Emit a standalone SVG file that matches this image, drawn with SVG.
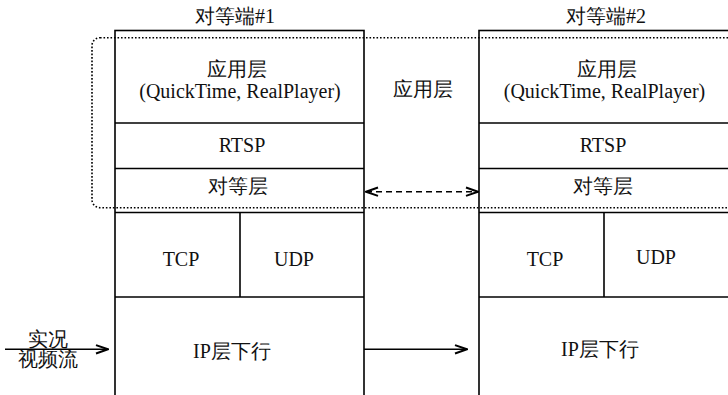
<svg xmlns="http://www.w3.org/2000/svg" width="728" height="395" viewBox="0 0 728 395">
  <style>
    .box { fill: none; stroke: #000; stroke-width: 1.6; }
    .conn { fill: none; stroke: #000; stroke-width: 1.6; }
    .dash { stroke-dasharray: 6 4; }
    .dots { fill: none; stroke: #000; stroke-width: 1.6; stroke-dasharray: 1.6 1.9; }
  </style>
  <defs>
    <marker id="open" viewBox="0 0 14 12" refX="13" refY="6" markerWidth="14" markerHeight="12" markerUnits="userSpaceOnUse" orient="auto-start-reverse">
      <path d="M1,1.8 L13,6 L1,10.2" fill="none" stroke="#000" stroke-width="2"/>
    </marker>
  </defs>
  <rect width="728" height="395" fill="#fff"/>

  <!-- peer 1 protocol stack -->
  <g id="peer1">
    <rect class="box" x="115" y="30.5" width="249" height="380"/>
    <line class="box" x1="115" y1="123" x2="364" y2="123"/>
    <line class="box" x1="115" y1="168.5" x2="364" y2="168.5"/>
    <line class="box" x1="115" y1="212.5" x2="364" y2="212.5"/>
    <line class="box" x1="115" y1="297" x2="364" y2="297"/>
    <line class="box" x1="240" y1="212.5" x2="240" y2="297"/>
    <text x="242" y="152" font-family="Liberation Serif" font-size="20" text-anchor="middle" fill="#111">RTSP</text>
    <text x="181" y="266" font-family="Liberation Serif" font-size="20" text-anchor="middle" fill="#111">TCP</text>
    <text x="294" y="266" font-family="Liberation Serif" font-size="20" text-anchor="middle" fill="#111">UDP</text>
    <text x="240" y="98" font-family="Liberation Serif" font-size="20" text-anchor="middle" fill="#111">(QuickTime, RealPlayer)</text>
    <text x="235" y="23" font-family="Liberation Serif" font-size="20" text-anchor="middle" fill="#111">对等端#1</text>
    <text x="237" y="76" font-family="Liberation Serif" font-size="20" text-anchor="middle" fill="#111">应用层</text>
    <text x="238" y="193" font-family="Liberation Serif" font-size="20" text-anchor="middle" fill="#111">对等层</text>
    <text x="232" y="358" font-family="Liberation Serif" font-size="20" text-anchor="middle" fill="#111">IP层下行</text>
  </g>

  <!-- peer 2 protocol stack -->
  <g id="peer2">
    <rect class="box" x="479" y="30.5" width="260" height="380"/>
    <line class="box" x1="479" y1="123" x2="739" y2="123"/>
    <line class="box" x1="479" y1="168.5" x2="739" y2="168.5"/>
    <line class="box" x1="479" y1="212.5" x2="739" y2="212.5"/>
    <line class="box" x1="479" y1="297" x2="739" y2="297"/>
    <line class="box" x1="604" y1="212.5" x2="604" y2="297"/>
    <text x="603" y="152" font-family="Liberation Serif" font-size="20" text-anchor="middle" fill="#111">RTSP</text>
    <text x="545" y="266" font-family="Liberation Serif" font-size="20" text-anchor="middle" fill="#111">TCP</text>
    <text x="656" y="264" font-family="Liberation Serif" font-size="20" text-anchor="middle" fill="#111">UDP</text>
    <text x="604.5" y="98" font-family="Liberation Serif" font-size="20" text-anchor="middle" fill="#111">(QuickTime, RealPlayer)</text>
    <text x="606" y="23" font-family="Liberation Serif" font-size="20" text-anchor="middle" fill="#111">对等端#2</text>
    <text x="607" y="76" font-family="Liberation Serif" font-size="20" text-anchor="middle" fill="#111">应用层</text>
    <text x="603" y="193" font-family="Liberation Serif" font-size="20" text-anchor="middle" fill="#111">对等层</text>
    <text x="600" y="356" font-family="Liberation Serif" font-size="20" text-anchor="middle" fill="#111">IP层下行</text>
  </g>

  <!-- application-layer span -->
  <g id="app-span">
    <rect class="dots" x="92" y="37.7" width="660" height="170" rx="8" ry="8"/>
    <text x="423" y="96" font-family="Liberation Serif" font-size="20" text-anchor="middle" fill="#111">应用层</text>
  </g>

  <!-- live video input -->
  <g id="live-input">
    <text x="48" y="346" font-family="Liberation Serif" font-size="20" text-anchor="middle" fill="#111">实况</text>
    <text x="48" y="366" font-family="Liberation Serif" font-size="20" text-anchor="middle" fill="#111">视频流</text>
  </g>

  <g id="connectors">
    <line class="conn dash" x1="366" y1="191.7" x2="478" y2="191.7" marker-start="url(#open)" marker-end="url(#open)"/>
    <line class="conn" x1="5" y1="349.3" x2="108" y2="349.3" marker-end="url(#open)"/>
    <line class="conn" x1="364" y1="349.3" x2="467" y2="349.3" marker-end="url(#open)"/>
  </g>
</svg>
